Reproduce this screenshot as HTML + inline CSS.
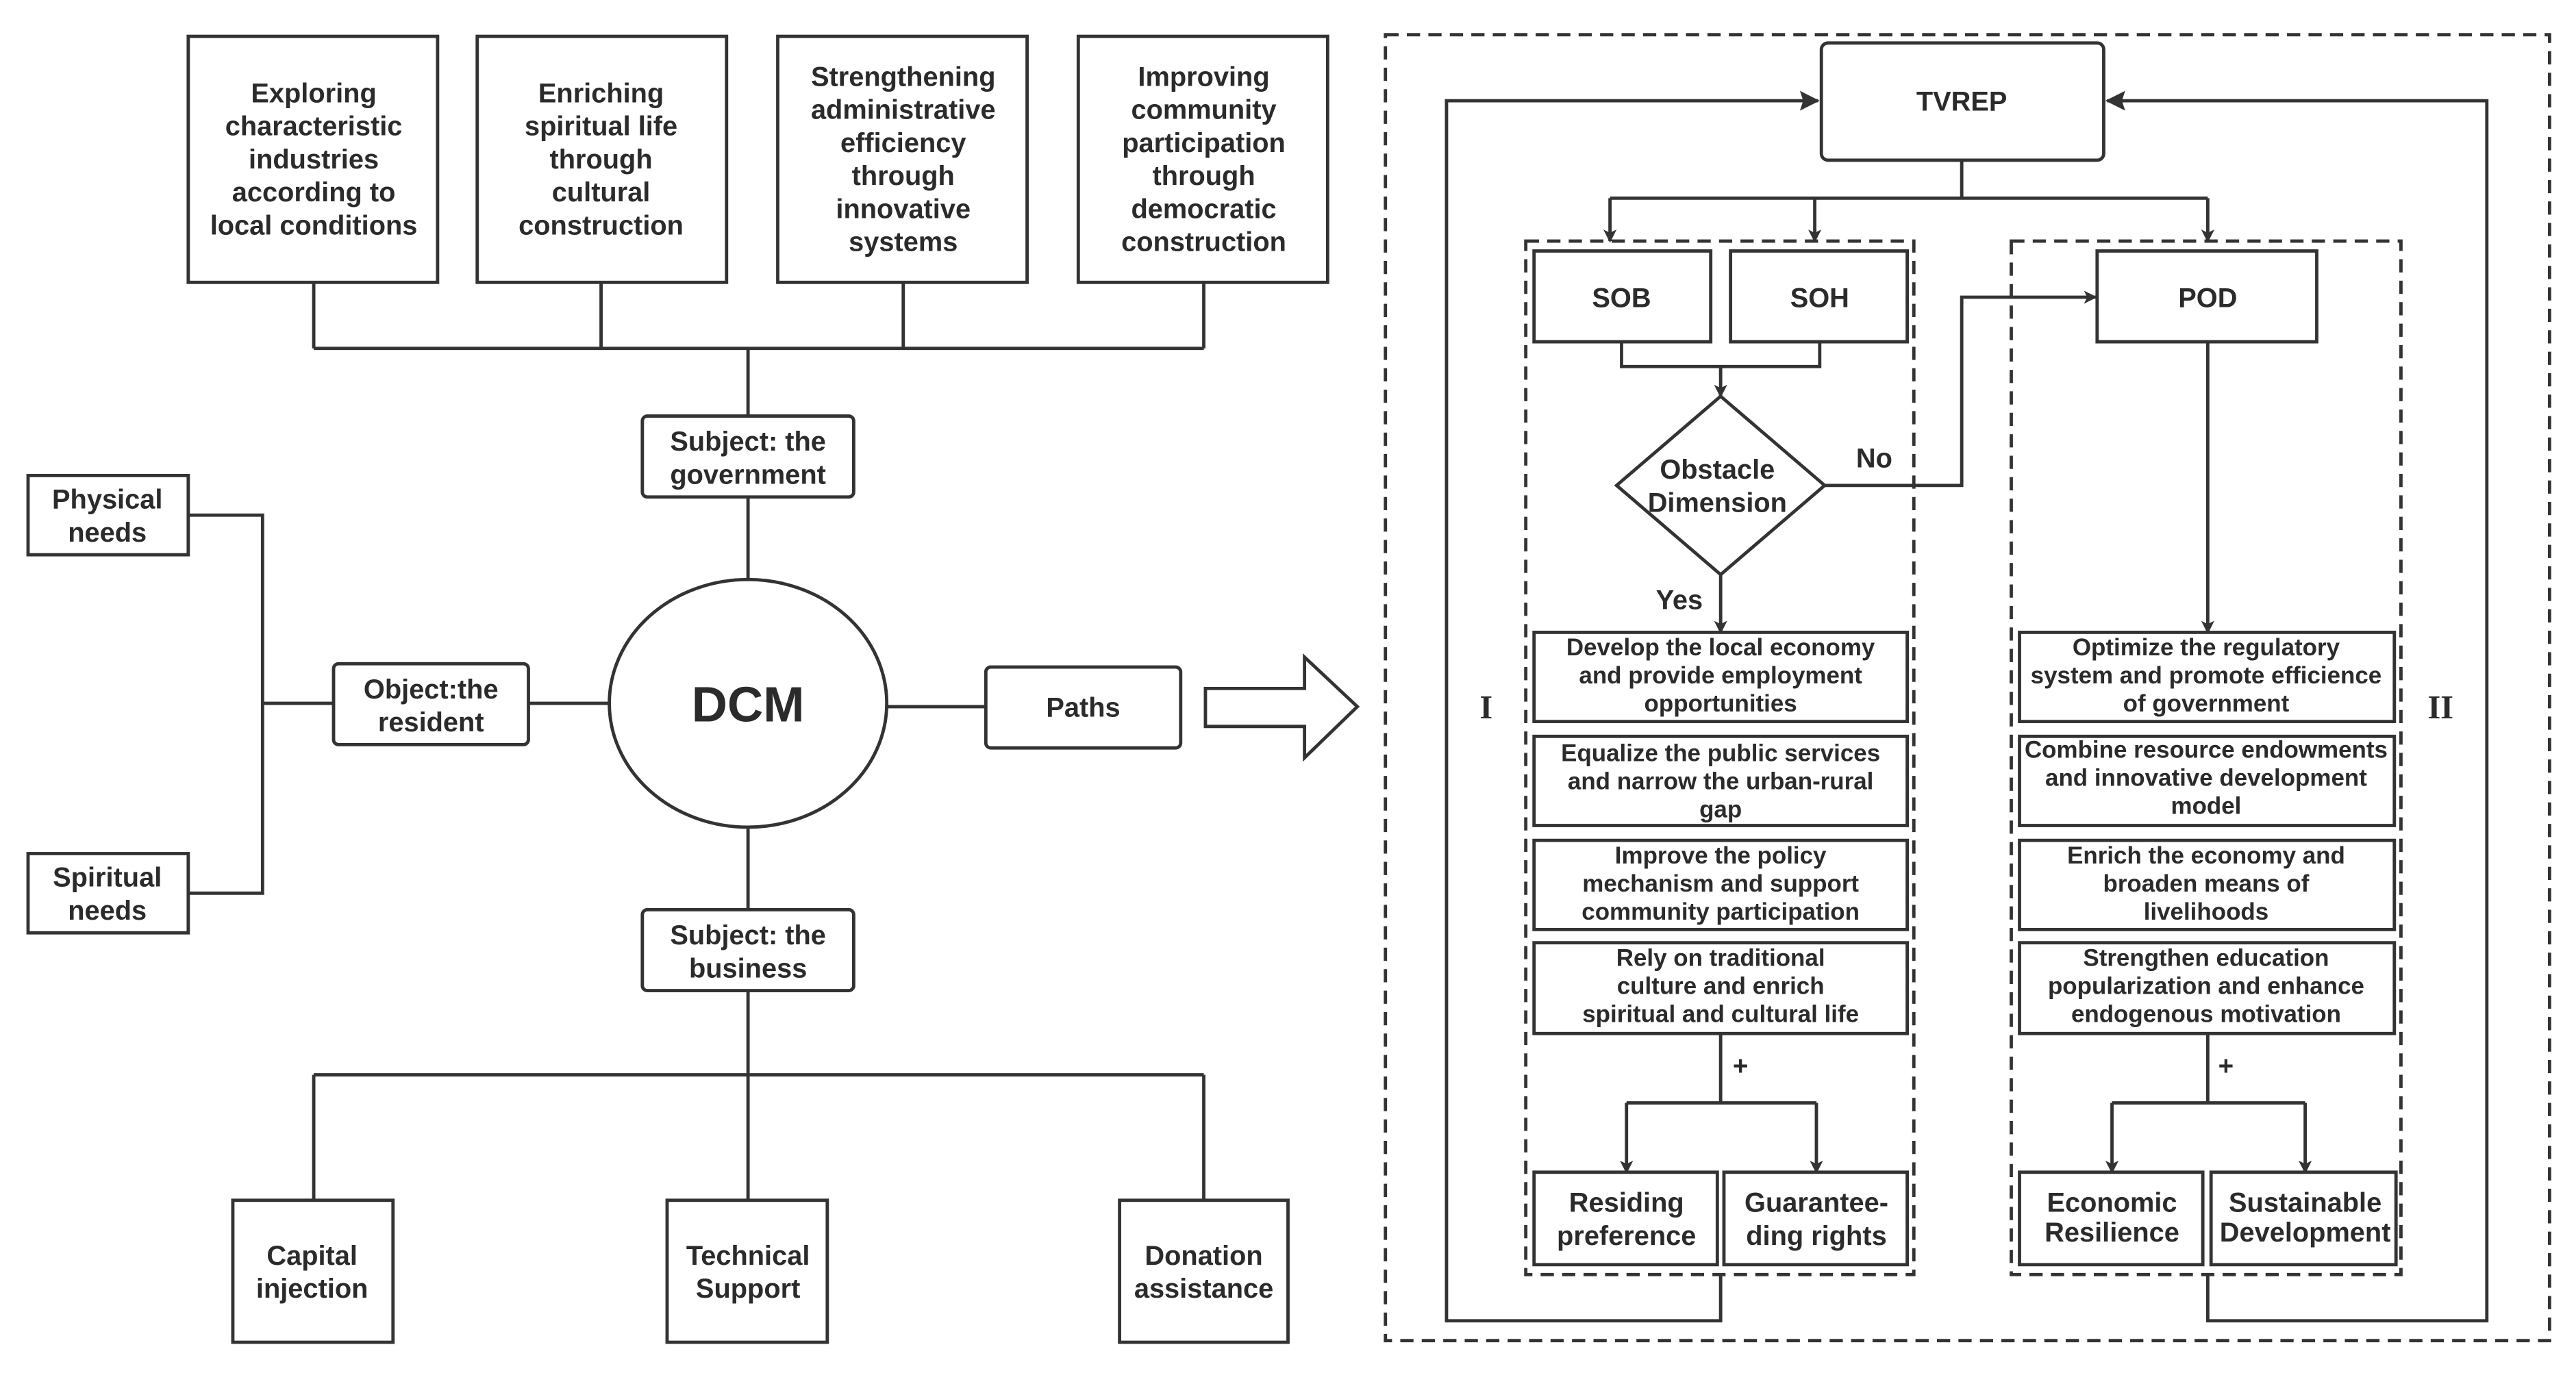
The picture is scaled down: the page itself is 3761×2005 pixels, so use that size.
<!DOCTYPE html>
<html><head><meta charset="utf-8"><style>
html,body{margin:0;padding:0;background:#fff;}
svg{display:block}
text{font-family:"Liberation Sans Narrow","Liberation Sans","DejaVu Sans Condensed",sans-serif;font-weight:bold;fill:#2b2b2b;text-anchor:middle;}
</style></head><body>
<svg width="3761" height="2005" viewBox="0 0 1560 831.6" xmlns="http://www.w3.org/2000/svg">
<defs><marker id="a" markerWidth="8" markerHeight="8" refX="7" refY="4" orient="auto" markerUnits="userSpaceOnUse"><path d="M0,0 L8,4 L0,8 L2,4z" fill="#333"/></marker>
<marker id="b" markerWidth="12" markerHeight="12" refX="11" refY="6" orient="auto" markerUnits="userSpaceOnUse"><path d="M0,0 L12,6 L0,12 L2,6z" fill="#333"/></marker></defs>
<g fill="none" stroke="#333" stroke-width="2">
<rect x="114" y="22" width="151" height="149"/><rect x="289" y="22" width="151" height="149"/>
<rect x="471" y="22" width="151" height="149"/><rect x="653" y="22" width="151" height="149"/>
<path d="M190 171V211M364 171V211M547 171V211M729 171V211M190 211H729M453 211V252"/>
<rect x="389" y="252" width="128" height="49" rx="3"/>
<path d="M453 301V352"/>
<ellipse cx="453" cy="426" rx="84" ry="75"/>
<rect x="202" y="402" width="118" height="49" rx="3"/>
<path d="M320 426H369M159 426H202M114 312H159V541H114"/>
<rect x="17" y="288" width="97" height="48"/><rect x="17" y="517" width="97" height="48"/>
<rect x="597" y="404" width="118" height="49" rx="3"/><path d="M537 428H597"/>
<path d="M730 417H790V398L822 428L790 459V440H730Z"/>
<rect x="389" y="551" width="128" height="49" rx="3"/>
<path d="M453 502V551M453 600V727M190 651H729M190 651V727M729 651V727"/>
<rect x="141" y="727" width="97" height="86"/><rect x="404" y="727" width="97" height="86"/><rect x="678" y="727" width="102" height="86"/>
<rect x="839" y="21" width="705" height="791" stroke-dasharray="8,5"/>
<rect x="1103" y="26" width="171" height="71" rx="4"/>
<path d="M1042 772V800H876V61H1101" marker-end="url(#b)"/>
<path d="M1337 772V800H1506V61H1276" marker-end="url(#b)"/>
<path d="M1188 97V120M975 120H1337"/>
<path d="M975 120V146" marker-end="url(#a)"/><path d="M1099 120V146" marker-end="url(#a)"/><path d="M1337 120V146" marker-end="url(#a)"/>
<rect x="924" y="146" width="235" height="626" stroke-dasharray="8,5"/>
<rect x="1218" y="146" width="236" height="626" stroke-dasharray="8,5"/>
<rect x="929" y="152" width="107" height="55"/><rect x="1048" y="152" width="107" height="55"/><rect x="1270" y="152" width="133" height="55"/>
<path d="M982 207V222H1102V207"/><path d="M1042 222V240" marker-end="url(#a)"/>
<path d="M1042 240L1105 294L1042 348L979 294Z"/>
<path d="M1105 294H1188V180H1269" marker-end="url(#a)"/>
<path d="M1042 348V383" marker-end="url(#a)"/>
<path d="M1337 207V383" marker-end="url(#a)"/>
<rect x="929" y="383" width="226" height="54"/><rect x="929" y="446" width="226" height="54"/><rect x="929" y="509" width="226" height="54"/><rect x="929" y="571" width="226" height="55"/>
<rect x="1223" y="383" width="227" height="54"/><rect x="1223" y="446" width="227" height="54"/><rect x="1223" y="509" width="227" height="54"/><rect x="1223" y="571" width="227" height="55"/>
<path d="M1042 626V668M985 668H1100M1337 626V668M1279 668H1396"/>
<path d="M985 668V710" marker-end="url(#a)"/><path d="M1100 668V710" marker-end="url(#a)"/>
<path d="M1279 668V710" marker-end="url(#a)"/><path d="M1396 668V710" marker-end="url(#a)"/>
<rect x="929" y="710" width="111" height="56"/><rect x="1044" y="710" width="111" height="56"/>
<rect x="1223" y="710" width="111" height="56"/><rect x="1339" y="710" width="112" height="56"/>
</g>
<g font-size="16.5">
<text x="190" y="62">Exploring</text><text x="190" y="82">characteristic</text><text x="190" y="102">industries</text><text x="190" y="122">according to</text><text x="190" y="142">local conditions</text>
<text x="364" y="62">Enriching</text><text x="364" y="82">spiritual life</text><text x="364" y="102">through</text><text x="364" y="122">cultural</text><text x="364" y="142">construction</text>
<text x="547" y="52">Strengthening</text><text x="547" y="72">administrative</text><text x="547" y="92">efficiency</text><text x="547" y="112">through</text><text x="547" y="132">innovative</text><text x="547" y="152">systems</text>
<text x="729" y="52">Improving</text><text x="729" y="72">community</text><text x="729" y="92">participation</text><text x="729" y="112">through</text><text x="729" y="132">democratic</text><text x="729" y="152">construction</text>
<text x="453" y="273">Subject: the</text><text x="453" y="293">government</text>
<text x="261" y="423">Object:the</text><text x="261" y="443">resident</text>
<text x="65" y="308">Physical</text><text x="65" y="328">needs</text>
<text x="65" y="537">Spiritual</text><text x="65" y="557">needs</text>
<text x="656" y="434">Paths</text>
<text x="453" y="572">Subject: the</text><text x="453" y="592">business</text>
<text x="189" y="766">Capital</text><text x="189" y="786">injection</text>
<text x="453" y="766">Technical</text><text x="453" y="786">Support</text>
<text x="729" y="766">Donation</text><text x="729" y="786">assistance</text>
<text x="1188" y="67">TVREP</text>
<text x="982" y="186">SOB</text><text x="1102" y="186">SOH</text><text x="1337" y="186">POD</text>
<text x="1040" y="290">Obstacle</text><text x="1040" y="310">Dimension</text>
<text x="1135" y="283">No</text><text x="1017" y="369">Yes</text>
<text x="985" y="734">Residing</text><text x="985" y="754">preference</text>
<text x="1100" y="734">Guarantee-</text><text x="1100" y="754">ding rights</text>
<text x="1279" y="734">Economic</text><text x="1279" y="752">Resilience</text>
<text x="1396" y="734">Sustainable</text><text x="1396" y="752">Development</text>
</g>
<g font-size="14.5">
<text x="1042" y="397">Develop the local economy</text><text x="1042" y="414">and provide employment</text><text x="1042" y="431">opportunities</text>
<text x="1042" y="461">Equalize the public services</text><text x="1042" y="478">and narrow the urban-rural</text><text x="1042" y="495">gap</text>
<text x="1042" y="523">Improve the policy</text><text x="1042" y="540">mechanism and support</text><text x="1042" y="557">community participation</text>
<text x="1042" y="585">Rely on traditional</text><text x="1042" y="602">culture and enrich</text><text x="1042" y="619">spiritual and cultural life</text>
<text x="1336" y="397">Optimize the regulatory</text><text x="1336" y="414">system and promote efficience</text><text x="1336" y="431">of government</text>
<text x="1336" y="459">Combine resource endowments</text><text x="1336" y="476">and innovative development</text><text x="1336" y="493">model</text>
<text x="1336" y="523">Enrich the economy and</text><text x="1336" y="540">broaden means of</text><text x="1336" y="557">livelihoods</text>
<text x="1336" y="585">Strengthen education</text><text x="1336" y="602">popularization and enhance</text><text x="1336" y="619">endogenous motivation</text>
</g>
<text x="453" y="437" font-size="30">DCM</text>
<text x="1054" y="651" font-size="16" font-weight="normal">+</text><text x="1348" y="651" font-size="16" font-weight="normal">+</text>
<text x="900" y="435" font-size="20" style="font-family:'Liberation Serif',serif">I</text>
<text x="1478" y="435" font-size="20" style="font-family:'Liberation Serif',serif">II</text>
</svg>
</body></html>
